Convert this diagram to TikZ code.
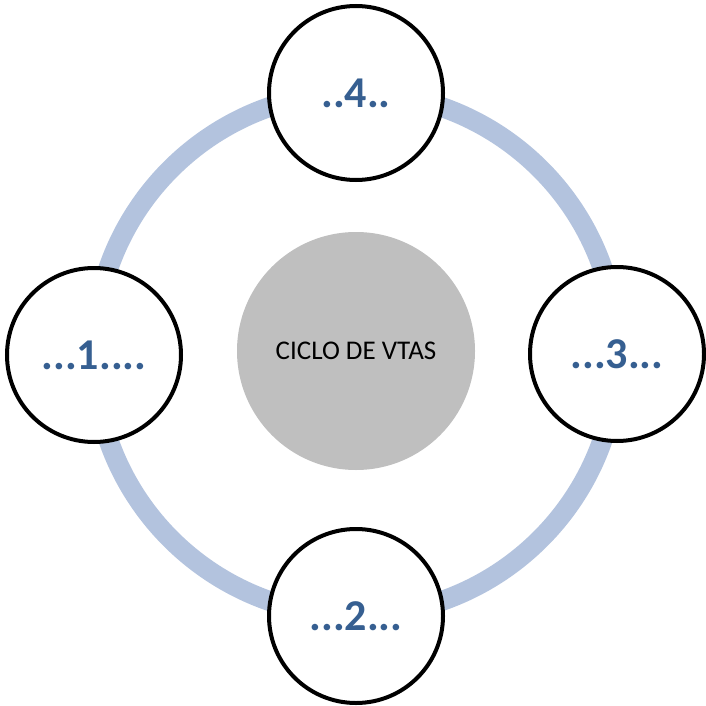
\documentclass[tikz,border=0pt]{standalone}
\usepackage{fontspec}
\setmainfont{Carlito}
\definecolor{ringblue}{RGB}{179,195,222}
\definecolor{txtblue}{RGB}{54,95,145}
\definecolor{hubgray}{RGB}{191,191,191}
\begin{document}
\begin{tikzpicture}[x=1pt,y=-1pt,
  stage/.style={circle,draw=black,line width=4pt,fill=white,minimum size=174pt,inner sep=0pt,
    font=\fontsize{44}{48}\selectfont\bfseries,text=txtblue},
  hub/.style={circle,fill=hubgray,minimum size=238pt,inner sep=0pt,
    font=\fontsize{27}{32}\selectfont,text=black}]
\useasboundingbox (0,0) rectangle (705,706);
\coordinate (c) at (355.5,354);
\draw[ringblue,line width=20pt] (c) circle[radius=261.5];
\node[hub] (hub) at (356,351) {CICLO DE VTAS};
\node[stage] (s4) at (356,93) {..4..};
\node[stage] (s1) at (94,355) {...1....};
\node[stage] (s3) at (617,354) {...3...};
\node[stage] (s2) at (356,616) {...2...};
\end{tikzpicture}
\end{document}
